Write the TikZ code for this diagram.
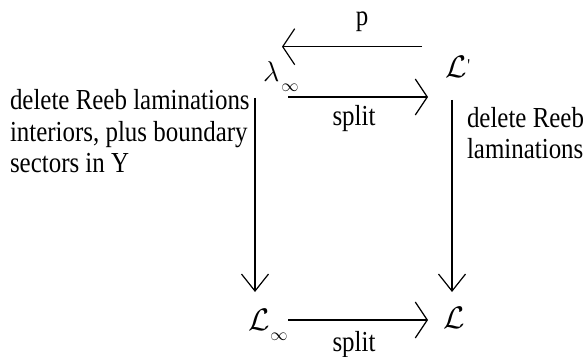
\documentclass[tikz,border=0pt]{standalone}
\usepackage{fontspec}
\setmainfont{Liberation Serif}[FakeStretch=0.86]
\usetikzlibrary{arrows.meta}
\tikzset{
  x=1pt, y=1pt,
  every node/.style={inner sep=0pt, outer sep=0pt, font=\fontsize{29}{29}\selectfont},
  obj/.style={anchor=base west},
  harr/.style={line width=1.2pt, -{Straight Barb[length=12pt,width=36pt,line width=1.2pt]}},
  varr/.style={line width=1.2pt, -{Straight Barb[length=17pt,width=27pt,line width=1.2pt]}},
  lab/.style={anchor=base},
  note/.style={align=left, anchor=base west}
}
\newcommand{\subinf}{\kern2pt\raisebox{-10pt}{\fontsize{17.28}{18}\selectfont$\infty$}}
\newcommand{\bigL}{\scalebox{1.25}{$\mathcal{L}$}}
\begin{document}
\begin{tikzpicture}
\useasboundingbox (0,0) rectangle (585,356);
% objects
\node[obj] (lam)  at (263,274) {\scalebox{1.15}{$\lambda$}\subinf};
\node[obj] (Lp)   at (445,278) {\bigL\kern1pt\raisebox{6pt}{\fontsize{18}{18}\selectfont\textquotesingle}};
\node[obj] (Linf) at (248,26)  {\bigL\kern-1pt\subinf};
\node[obj] (L)    at (443,28)  {\bigL};
% arrows
\draw[harr] ([shift={(-23,31.3)}]Lp.base west) -- ([shift={(19,35.3)}]lam.base west)
  node[lab, midway, xshift=10pt, yshift=21pt] (p) {p};
\draw[harr] ([shift={(25,-15)}]lam.base west) -- ([shift={(-17,-19)}]Lp.base west)
  node[lab, midway, xshift=-4pt, yshift=-29pt] (s1) {split};
\draw[varr] ([shift={(-8,-16)}]lam.base west) -- ([shift={(7,38)}]Linf.base west);
\draw[varr] ([shift={(7,-22)}]Lp.base west) -- ([shift={(9,36)}]L.base west);
\draw[harr] ([shift={(40,10)}]Linf.base west) -- ([shift={(-15,8)}]L.base west)
  node[lab, midway, xshift=-4pt, yshift=-31pt] (s2) {split};
% notes
\node[note] (leftnote) at (10,183) {delete Reeb laminations\\[2.5pt]interiors, plus boundary\\[2.5pt]sectors in Y};
\node[note] (rightnote) at (467,197) {delete Reeb\\[2pt]laminations};
\end{tikzpicture}
\end{document}
